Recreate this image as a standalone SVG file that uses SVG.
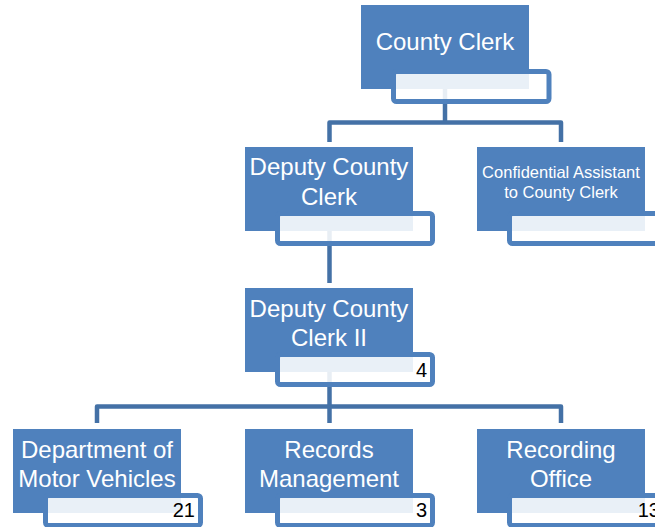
<svg xmlns="http://www.w3.org/2000/svg" width="655" height="527" viewBox="0 0 655 527">
<style>
.main{fill:#4F81BD;}
.title{fill:#FFFFFF;fill-opacity:0.88;stroke:#4F81BD;stroke-width:5;}
.conn{fill:none;stroke:#4471A6;stroke-width:4.5;stroke-linejoin:round;}
.lbl{font-family:"Liberation Sans",Arial,sans-serif;font-size:24px;fill:#FFFFFF;text-anchor:middle;}
.lbls{font-family:"Liberation Sans",Arial,sans-serif;font-size:16.5px;fill:#FFFFFF;text-anchor:middle;}
.num{font-family:"Liberation Sans",Arial,sans-serif;font-size:20px;fill:#000000;text-anchor:end;}
</style>
<rect width="655" height="527" fill="#FFFFFF"/>
<g id="connectors">
<path class="conn" d="M445,89 V122.5"/>
<path class="conn" d="M329.5,142 V122.5 H561 V142"/>
<path class="conn" d="M329.5,231 V283"/>
<path class="conn" d="M329.5,372 V423"/>
<path class="conn" d="M97,423 V406.5 H561 V423"/>
</g>
<g id="county-clerk">
<rect class="main" x="361" y="5" width="168" height="84"/>
<rect class="title" x="393.5" y="71.5" width="155.5" height="30" rx="3"/>
<text class="lbl" x="445" y="50">County Clerk</text>
</g>
<g id="deputy-county-clerk">
<rect class="main" x="245" y="147" width="168" height="84"/>
<rect class="title" x="277.5" y="213.5" width="155" height="30" rx="3"/>
<text class="lbl" x="329" y="175">Deputy County</text>
<text class="lbl" x="329" y="205">Clerk</text>
</g>
<g id="confidential-assistant">
<rect class="main" x="477" y="147" width="168" height="84"/>
<rect class="title" x="509.5" y="213.5" width="155" height="30" rx="3"/>
<text class="lbls" x="561" y="178">Confidential Assistant</text>
<text class="lbls" x="561" y="198">to County Clerk</text>
</g>
<g id="deputy-county-clerk-ii">
<rect class="main" x="245" y="288" width="168" height="84"/>
<rect class="title" x="277.5" y="354.5" width="155" height="30" rx="3"/>
<text class="lbl" x="329" y="317">Deputy County</text>
<text class="lbl" x="329" y="346">Clerk II</text>
<text class="num" x="427" y="377">4</text>
</g>
<g id="dmv">
<rect class="main" x="13" y="429" width="168" height="84"/>
<rect class="title" x="45.5" y="495.5" width="155" height="30" rx="3"/>
<text class="lbl" x="97" y="458">Department of</text>
<text class="lbl" x="97" y="487">Motor Vehicles</text>
<text class="num" x="195" y="517">21</text>
</g>
<g id="records-management">
<rect class="main" x="245" y="429" width="168" height="84"/>
<rect class="title" x="277.5" y="495.5" width="155" height="30" rx="3"/>
<text class="lbl" x="329" y="458">Records</text>
<text class="lbl" x="329" y="487">Management</text>
<text class="num" x="427" y="517">3</text>
</g>
<g id="recording-office">
<rect class="main" x="477" y="429" width="168" height="84"/>
<rect class="title" x="509.5" y="495.5" width="155" height="30" rx="3"/>
<text class="lbl" x="561" y="458">Recording</text>
<text class="lbl" x="561" y="487">Office</text>
<text class="num" x="660" y="517">13</text>
</g>
</svg>
